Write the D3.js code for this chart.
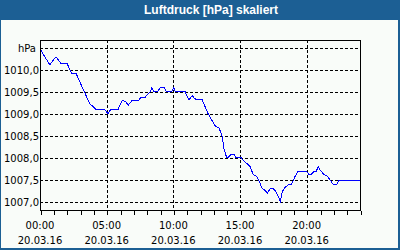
<!DOCTYPE html>
<html>
<head>
<meta charset="utf-8">
<script src="https://cdn.jsdelivr.net/npm/d3@7"></script>
<style>
  body { margin: 0; background: #fff; }
  svg { display: block; }
  text { font-family: "DejaVu Sans", sans-serif; font-size: 10px; fill: #000; }
</style>
</head>
<body>
<svg id="chart" width="400" height="250"></svg>
<script>
// hours since 00:00 on 20.03.16
const hours = [0, 0.73, 1.2, 1.4, 1.6, 2.05, 2.35, 2.7, 2.85, 3.77, 3.92, 4.22, 4.85, 5.1, 5.3, 5.85,
  6.15, 6.4, 6.62, 6.88, 7.37, 7.57, 7.88, 8.08, 8.27, 8.38, 8.55, 8.83, 9.02, 9.32, 9.47, 9.88,
  10.03, 10.13, 10.88, 11.03, 11.18, 11.42, 11.57, 11.75, 12.17, 12.32, 12.62, 13.07, 13.18, 13.43,
  13.67, 13.78, 14.0, 14.12, 14.33, 14.53, 14.68, 15.08, 15.32, 15.5, 15.75, 16.0, 16.25, 16.5,
  16.67, 16.82, 17.05, 17.25, 17.5, 17.68, 17.93, 18.02, 18.17, 18.38, 18.62, 18.83, 19.13, 19.37,
  20.0, 20.18, 20.33, 20.57, 20.72, 20.87, 21.02, 21.32, 21.58, 21.83, 22.0, 22.25, 22.43, 24.0];
const pressure = [1010.48, 1010.12, 1010.3, 1010.22, 1010.14, 1010.14, 1009.93, 1009.93, 1009.82,
  1009.21, 1009.19, 1009.1, 1009.1, 1009.01, 1009.1, 1009.1, 1009.3, 1009.29, 1009.2, 1009.3,
  1009.3, 1009.38, 1009.38, 1009.45, 1009.51, 1009.59, 1009.5, 1009.51, 1009.6, 1009.6, 1009.51,
  1009.51, 1009.6, 1009.51, 1009.51, 1009.4, 1009.32, 1009.42, 1009.36, 1009.32, 1009.32, 1009.21,
  1009.0, 1008.76, 1008.72, 1008.68, 1008.49, 1008.23, 1008.01, 1008.01, 1008.09, 1008.09, 1008.01,
  1008.01, 1007.92, 1007.88, 1007.81, 1007.62, 1007.58, 1007.43, 1007.3, 1007.28, 1007.2, 1007.3,
  1007.3, 1007.24, 1007.08, 1007.01, 1007.24, 1007.33, 1007.39, 1007.39, 1007.58, 1007.7, 1007.7,
  1007.62, 1007.62, 1007.7, 1007.7, 1007.8, 1007.72, 1007.62, 1007.58, 1007.47, 1007.39, 1007.39,
  1007.5, 1007.5];

const yTicks = [1007.0, 1007.5, 1008.0, 1008.5, 1009.0, 1009.5, 1010.0, 1010.5];
const xLabelHours = [0, 5, 10, 15, 20];
const xLabelTimes = ['00:00', '05:00', '10:00', '15:00', '20:00'];
const dateLabel = '20.03.16';
const title = 'Luftdruck [hPa] skaliert';
const unit = 'hPa';

const svg = d3.select('#chart');
const plotLeft = 40, plotRight = 360, plotTop = 40, plotBottom = 210;

const x = d3.scaleLinear().domain([0, 24]).range([plotLeft, plotRight]);
const y = d3.scaleLinear().domain([1007, 1010.5]).range([202, 48]);

// frame + title bar
svg.append('rect').attr('width', 400).attr('height', 250).attr('fill', '#1c5f94');
svg.append('rect').attr('x', 1).attr('y', 20).attr('width', 397).attr('height', 228)
  .attr('fill', '#f9fcf9');
svg.append('text')
  .attr('x', 211).attr('y', 14)
  .attr('text-anchor', 'middle')
  .style('font-family', '"Liberation Sans", Arial, sans-serif')
  .style('font-size', '12px')
  .style('font-weight', 'bold')
  .style('fill', '#fff')
  .text(title);

// grid
const grid = svg.append('g')
  .attr('stroke', '#000')
  .attr('stroke-dasharray', '3,2')
  .attr('shape-rendering', 'crispEdges');
grid.selectAll('line.h')
  .data(yTicks)
  .enter()
  .append('line')
  .attr('class', 'h')
  .attr('x1', plotLeft).attr('x2', plotRight)
  .attr('y1', d => Math.round(y(d)) + 0.5)
  .attr('y2', d => Math.round(y(d)) + 0.5);
grid.selectAll('line.v')
  .data(xLabelHours.filter(h => h > 0))
  .enter()
  .append('line')
  .attr('class', 'v')
  .attr('y1', plotTop).attr('y2', plotBottom)
  .attr('x1', d => Math.round(x(d)) + 0.5)
  .attr('x2', d => Math.round(x(d)) + 0.5);

// y labels
svg.append('g')
  .selectAll('text')
  .data(yTicks)
  .enter()
  .append('text')
  .attr('x', (d, i) => (i === yTicks.length - 1 ? 36 : 39))
  .attr('y', d => y(d) + 4)
  .attr('text-anchor', 'end')
  .text((d, i) => (i === yTicks.length - 1 ? unit : d.toFixed(1).replace('.', ',')));

// pressure line
const clip = svg.append('clipPath').attr('id', 'plotClip');
clip.append('rect')
  .attr('x', plotLeft).attr('y', plotTop)
  .attr('width', plotRight - plotLeft).attr('height', plotBottom - plotTop);

const line = d3.line()
  .x((d, i) => x(hours[i]))
  .y(d => y(d));

svg.append('path')
  .datum(pressure)
  .attr('clip-path', 'url(#plotClip)')
  .attr('fill', 'none')
  .attr('stroke', '#0000ff')
  .attr('stroke-width', 1)
  .attr('shape-rendering', 'crispEdges')
  .attr('d', line);

// plot border
svg.append('rect')
  .attr('x', plotLeft + 0.5).attr('y', plotTop + 0.5)
  .attr('width', plotRight - plotLeft).attr('height', plotBottom - plotTop)
  .attr('fill', 'none')
  .attr('stroke', '#000')
  .attr('shape-rendering', 'crispEdges');

// hourly ticks on x axis
const xAxis = d3.axisBottom(x)
  .tickValues(d3.range(0, 25))
  .tickSize(4)
  .tickSizeOuter(0)
  .tickFormat('');
svg.append('g')
  .attr('transform', `translate(0.5, ${plotBottom + 0.5})`)
  .attr('shape-rendering', 'crispEdges')
  .call(xAxis)
  .call(g => g.select('.domain').remove());

// x labels
const xl = svg.append('g')
  .selectAll('g')
  .data(xLabelHours)
  .enter()
  .append('g')
  .attr('transform', d => `translate(${x(d)}, 0)`);
xl.append('text')
  .attr('y', 229)
  .attr('text-anchor', 'middle')
  .text((d, i) => xLabelTimes[i]);
xl.append('text')
  .attr('y', 243.5)
  .attr('text-anchor', 'middle')
  .text(dateLabel);
</script>
</body>
</html>
